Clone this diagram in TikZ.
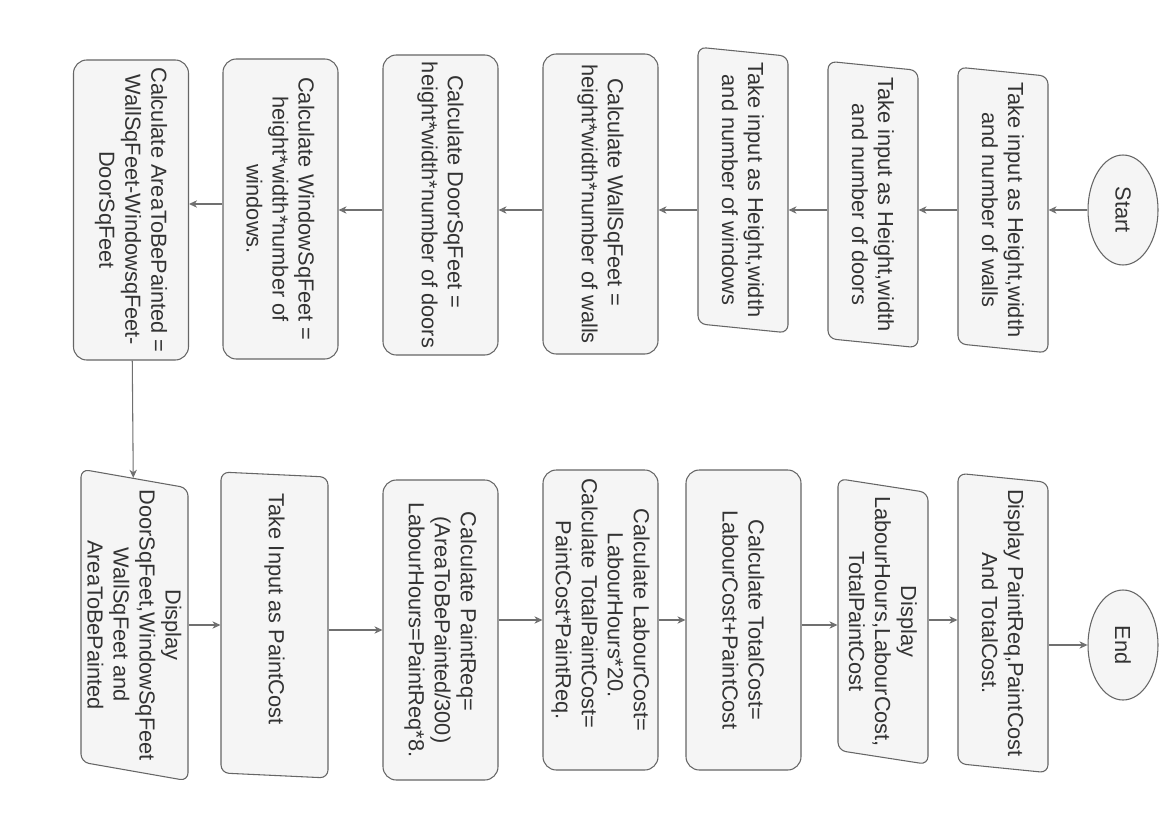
\documentclass[tikz,border=0pt]{standalone}
\usepackage{fontspec}
\setmainfont{Liberation Sans}
\usetikzlibrary{shapes.geometric,arrows.meta}
\definecolor{fillC}{HTML}{F5F5F5}
\definecolor{lineC}{HTML}{666666}
\definecolor{textC}{HTML}{333333}
\definecolor{arrC}{HTML}{707070}
\tikzset{
  base/.style={draw=lineC, fill=fillC, text=textC, line width=0.8pt,
    font=\fontsize{16.35}{19.5}\selectfont, align=center, rotate=-90, inner sep=1pt},
  rbox/.style={base, rectangle, rounded corners=10pt,
    minimum width=225pt, minimum height=86.25pt},
  pbox/.style={base, trapezium, trapezium left angle=79, trapezium right angle=101,
    trapezium stretches=true, rounded corners=6pt},
  term/.style={base, ellipse, minimum width=82.5pt, minimum height=52.5pt},
  arr/.style={draw=arrC, line width=0.8pt, -{Stealth[length=6pt,width=5.5pt,inset=1.8pt]}}
}
\newcommand{\tr}[1]{\rule{#1}{0pt}}
\begin{document}
\begin{tikzpicture}[x=0.75pt,y=-0.75pt]
\fill[white] (0,0) rectangle (1169,827);
\useasboundingbox (0,0) rectangle (1169,827);
% row 1
\node[term] (start) at (1123,210) {Start};
\node[pbox, minimum width=214.5pt, minimum height=67.5pt] (b1) at (1003,210)
  {Take input as Height,width\\and number of walls};
\node[pbox, minimum width=215pt, minimum height=67.5pt] (b2) at (873,204.5)
  {Take input as Height,width\\and number of doors};
\node[pbox, minimum width=214.5pt, minimum height=67.5pt] (b3) at (743,190)
  {Take input as Height,width\\and number of windows};
\node[rbox] (b4) at (600.5,204)
  {Calculate WallSqFeet =\tr{18pt}\\height*width*number of walls};
\node[rbox] (b5) at (440.5,205)
  {Calculate DoorSqFeet =\tr{20pt}\\height*width*number of doors};
\node[rbox] (b6) at (280.5,209)
  {Calculate WindowSqFeet =\\height*width*number of\\windows.};
\node[rbox] (b7) at (131,210)
  {Calculate AreaToBePainted =\\WallSqFeet-WindowsqFeet-\\DoorSqFeet};
% row 2
\node[pbox, minimum width=229.5pt, minimum height=80.25pt] (b8) at (134.5,625)
  {Display\\DoorSqFeet,WindowSqFeet\\WallSqFeet and\\AreaToBePainted};
\node[pbox, minimum width=229.5pt, minimum height=80.25pt] (b9) at (274.5,625)
  {Take Input as PaintCost\tr{24pt}};
\node[rbox] (b10) at (440.5,630)
  {Calculate PaintReq=\tr{28pt}\\(AreaToBePainted/300)\\LabourHours=PaintReq*8.};
\node[rbox] (b11) at (600.5,620)
  {Calculate LabourCost=\\LabourHours*20.\tr{7pt}\\Calculate TotalPaintCost=\tr{25pt}\\PaintCost*PaintReq.};
\node[rbox] (b12) at (743.5,620)
  {Calculate TotalCost=\\LabourCost+PaintCost};
\node[pbox, minimum width=215pt, minimum height=67.5pt] (b13) at (883,621.5)
  {Display\\LabourHours,LabourCost,\\TotalPaintCost};
\node[pbox, minimum width=225pt, minimum height=67.5pt] (b14) at (1003,623)
  {Display PaintReq,PaintCost\\And TotalCost.};
\node[term] (end) at (1123,645) {End};
% levels
\coordinate (ya) at (0,210);
\coordinate (yb) at (0,204);
\coordinate (yc) at (0,625);
\coordinate (yd) at (0,630);
\coordinate (ye) at (0,620);
\coordinate (yf) at (0,645);
% connectors row 1
\draw[arr] (start.south |- ya) -- (b1.north |- ya);
\draw[arr] (b1.south |- ya) -- (b2.north |- ya);
\draw[arr] (b2.south |- ya) -- (b3.north |- ya);
\draw[arr] (b3.south |- ya) -- (b4.north |- ya);
\draw[arr] (b4.south |- ya) -- (b5.north |- ya);
\draw[arr] (b5.south |- ya) -- (b6.north |- ya);
\draw[arr] (b6.south |- yb) -- (b7.north |- yb);
\draw[arr] (b7) -- (b8);
% connectors row 2
\draw[arr] (b8.north |- yc) -- (b9.south |- yc);
\draw[arr] (b9.north |- yd) -- (b10.south |- yd);
\draw[arr] (b10.north |- ye) -- (b11.south |- ye);
\draw[arr] (b11.north |- ye) -- (b12.south |- ye);
\draw[arr] (b12.north |- yc) -- (b13.south |- yc);
\draw[arr] (b13.north |- ye) -- (b14.south |- ye);
\draw[arr] (b14.north |- yf) -- (end.south |- yf);
\end{tikzpicture}
\end{document}
